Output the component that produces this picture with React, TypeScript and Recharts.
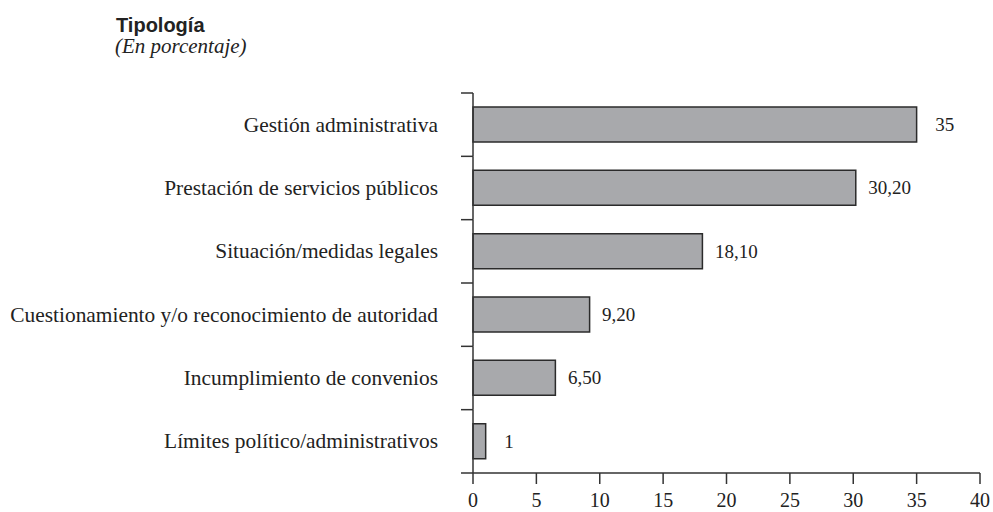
import React from 'react';
import { BarChart, Bar, XAxis, YAxis, LabelList } from 'recharts';

const categories = [
  'Gestión administrativa',
  'Prestación de servicios públicos',
  'Situación/medidas legales',
  'Cuestionamiento y/o reconocimiento de autoridad',
  'Incumplimiento de convenios',
  'Límites político/administrativos',
];
const values = [35, 30.2, 18.1, 9.2, 6.5, 1];
const xTicks = [0, 5, 10, 15, 20, 25, 30, 35, 40];
const title = 'Tipología';
const subtitle = '(En porcentaje)';

const data = categories.map((name, i) => ({ name, value: values[i] }));

const SERIF = '"Liberation Serif", "Times New Roman", serif';
const SANS = '"Liberation Sans", Arial, sans-serif';
const INK = '#222';
const LINE = '#333';

const fmt = (v: number) => (Number.isInteger(v) ? String(v) : v.toFixed(2).replace('.', ','));

const CategoryTick = (props: any) => {
  const { x, y, payload, index } = props;
  const half = payload && payload.offset ? payload.offset : 380 / 12;
  const ax = x;
  return (
    <g>
      <line x1={ax} x2={ax} y1={y - half} y2={y + half} stroke={LINE} strokeWidth={1.5} />
      <line x1={ax - 12} x2={ax} y1={y - half} y2={y - half} stroke={LINE} strokeWidth={1.5} />
      {index === categories.length - 1 && (
        <line x1={ax - 12} x2={ax} y1={y + half} y2={y + half} stroke={LINE} strokeWidth={1.5} />
      )}
      <text x={ax - 35} y={y} textAnchor="end" dominantBaseline="central" fill={INK} fontFamily={SERIF} fontSize={21.4}>
        {payload.value}
      </text>
    </g>
  );
};

const ValueLabel = (props: any) => {
  const { x, y, width, height, value } = props;
  const off = Number.isInteger(value) ? 18.5 : 12.5;
  return (
    <text x={x + width + off} y={y + height / 2} dominantBaseline="central" fill={INK} fontFamily={SERIF} fontSize={19}>
      {fmt(value)}
    </text>
  );
};

export default function App() {
  return (
    <div style={{ position: 'absolute', left: 0, top: 0, width: 993, height: 512, background: '#fff' }}>
      <BarChart
        width={993}
        height={512}
        data={data}
        layout="vertical"
        margin={{ top: 93, right: 13, bottom: 0, left: 0 }}
        barCategoryGap={0}
      >
        <XAxis
          type="number"
          domain={[0, 40]}
          ticks={xTicks}
          interval={0}
          height={39}
          tickSize={11}
          tickMargin={9}
          axisLine={{ stroke: LINE, strokeWidth: 1.5 }}
          tickLine={{ stroke: LINE, strokeWidth: 1.5 }}
          tick={{ fill: INK, fontFamily: SERIF, fontSize: 20 }}
        />
        <YAxis
          type="category"
          dataKey="name"
          width={473}
          interval={0}
          tickSize={0}
          tickMargin={0}
          axisLine={false}
          tickLine={false}
          tick={<CategoryTick />}
        />
        <Bar dataKey="value" barSize={35} fill="#a8a9ac" stroke="#2b2b2b" strokeWidth={1.5} isAnimationActive={false}>
          <LabelList dataKey="value" content={<ValueLabel />} />
        </Bar>
      </BarChart>
      <svg width={993} height={80} style={{ position: 'absolute', left: 0, top: 0, pointerEvents: 'none' }}>
        <text x={116} y={32} fontFamily={SANS} fontWeight="bold" fontSize={20} fill={INK}>{title}</text>
        <text x={115} y={53} fontFamily={SERIF} fontStyle="italic" fontSize={21} fill={INK}>{subtitle}</text>
      </svg>
    </div>
  );
}
